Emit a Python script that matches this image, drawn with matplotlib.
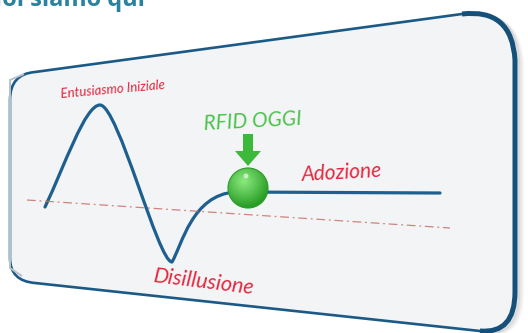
import matplotlib

matplotlib.use("Agg")
import matplotlib.pyplot as plt  # noqa: E402
import numpy as np  # noqa: E402
from matplotlib.path import Path  # noqa: E402
from matplotlib.patches import PathPatch, Circle, FancyArrow  # noqa: E402

# hype-cycle curve, key/control points in picture pixels (y grows downward)
curve_x = [45, 65, 85, 100, 118, 158, 172, 182, 192, 235, 440]
curve_y = [207, 165, 105, 105, 105, 262, 262, 245, 195, 192, 193]

# baseline (dash-dot) endpoints
base_x = [27, 450]
base_y = [200, 228]

# "today" marker position on the plateau
today_x, today_y = 248, 188

labels = {
    "Entusiasmo Iniziale": (113, 89, 5, 9.5),
    "Adozione": (342, 173, 3, 15),
    "Disillusione": (204, 282, -7, 15.5),
}
title_text = "Noi siamo qui"

W, H = 528, 333
fig = plt.figure(figsize=(W / 100, H / 100), dpi=100)
ax = fig.add_axes([0, 0, 1, 1])
ax.set_xlim(0, W)
ax.set_ylim(H, 0)
ax.axis("off")

# panel outline (perspective rounded rectangle)
M, L, C3 = Path.MOVETO, Path.LINETO, Path.CURVE3
verts = [(10, 258), (10, 100), (10, 74), (35, 72), (462, 14), (512, 8), (515, 60),
         (515, 292), (515, 334), (480, 331), (35, 283), (10, 281), (10, 258), (10, 258)]
codes = [M, L, C3, C3, L, C3, C3, L, C3, C3, L, C3, C3, Path.CLOSEPOLY]
panel = Path(verts, codes)

right_v = [(462, 14), (512, 8), (515, 60), (515, 292), (515, 334), (480, 331)]
right_c = [M, C3, C3, L, C3, C3]

# soft shadow on the right side only
for off, a in [(7, 0.06), (5, 0.10), (3, 0.16)]:
    sh = Path([(x + off, y + off * 0.4) for x, y in right_v], right_c)
    ax.add_patch(PathPatch(sh, facecolor="none", edgecolor="#6f6f6f", lw=3, alpha=a))

ax.add_patch(PathPatch(panel, facecolor="#f3f4f6", edgecolor="#1b5a86", lw=1.9))
# thicker right side
ax.add_patch(PathPatch(Path(right_v, right_c), facecolor="none", edgecolor="#15507a",
                       lw=3.6))
# left side is light grey
left = Path([(22, 276), (10, 268), (10, 258), (10, 100), (10, 80), (24, 74)],
            [M, L, L, L, L, L])
ax.add_patch(PathPatch(left, facecolor="none", edgecolor="#b8c2cc", lw=1.4))

# baseline
ax.plot(base_x, base_y, color="#c8706a", lw=0.9, ls=(0, (7, 3, 1.5, 3)), alpha=0.85)

# curve
cc = [M, Path.CURVE4, Path.CURVE4, Path.CURVE4, Path.CURVE4, Path.CURVE4, Path.CURVE4,
      Path.CURVE4, Path.CURVE4, Path.CURVE4, L]
curve = Path(list(zip(curve_x, curve_y)), cc)
ax.add_patch(PathPatch(curve, facecolor="none", edgecolor="#1d5f8e", lw=2.3,
                       capstyle="round", joinstyle="round"))

# green sphere with radial gradient
r = 20
gx, gy = np.meshgrid(np.linspace(-r, r, 80), np.linspace(-r, r, 80))
d = np.sqrt((gx + 4) ** 2 + (gy + 7) ** 2) / (1.3 * r)
d = np.clip(d, 0, 1)
c0 = np.array([0.55, 0.92, 0.50])
c1 = np.array([0.16, 0.62, 0.15])
img = c0 * (1 - d[..., None]) + c1 * d[..., None]
im = ax.imshow(img, extent=(today_x - r, today_x + r, today_y + r, today_y - r),
               interpolation="bilinear", zorder=5)
ball = Circle((today_x, today_y), r, facecolor="none", edgecolor="#2c9a28", lw=0.8,
              zorder=6)
ax.add_patch(ball)
im.set_clip_path(ball)
ax.add_patch(Circle((today_x - 2, today_y - 12), 2.5, facecolor="white", alpha=0.6,
                    lw=0, zorder=6))

# arrow and label
ax.add_patch(FancyArrow(today_x, 134, 0, 32, width=10, head_width=26, head_length=15,
                        length_includes_head=True, color="#3cb93a", lw=0, zorder=6))
ax.text(253, 121, "RFID OGGI", color="#4cc24a", fontsize=15, family="Lato",
        style="italic", ha="center", va="center", rotation=3)

for txt, (x, y, rot, fs) in labels.items():
    ax.text(x, y, txt, color="#e4283f", fontsize=fs, family="Lato", style="italic",
            ha="center", va="center", rotation=rot)

# title, mostly cut off at the top edge
ax.text(145, 5.5, title_text, color="#2b82a0", fontsize=17, fontweight="bold",
        family="Open Sans", ha="right", va="baseline", clip_on=False)

fig.savefig("out.png", dpi=100, facecolor="white")
